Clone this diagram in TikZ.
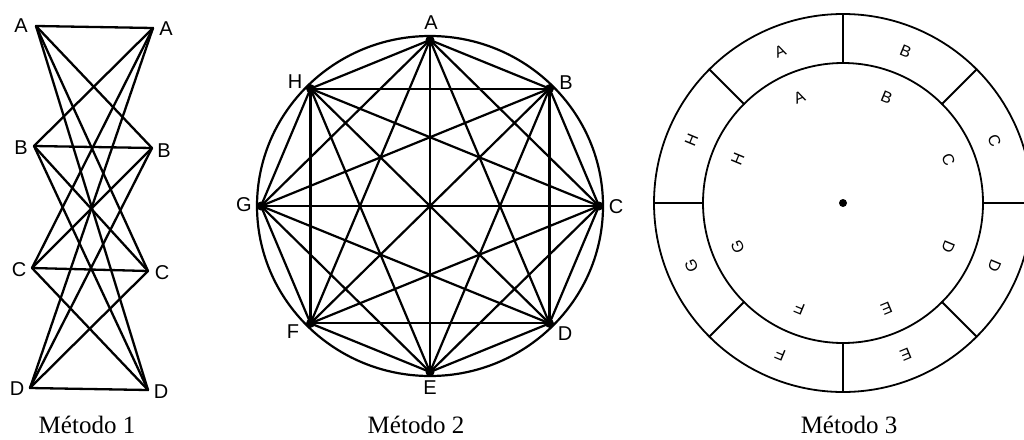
\documentclass[tikz,border=0pt]{standalone}
\usepackage{fontspec}
\setmainfont{Liberation Serif}
\newfontfamily\lblfont{Liberation Sans}
\begin{document}
\begin{tikzpicture}[x=1pt,y=-1pt,line cap=round,line join=round,
  edgeone/.style={line width=2.3pt},
  edgetwo/.style={line width=2.2pt},
  ringline/.style={line width=1.8pt},
  vlabel/.style={font=\lblfont\fontsize{20}{20}\selectfont,inner sep=0pt},
  wlabel/.style={font=\lblfont\fontsize{16}{16}\selectfont,inner sep=0pt},
  vdot/.style={circle,fill=black,inner sep=0pt,minimum size=9pt},
  caption/.style={font=\fontsize{25}{25}\selectfont,inner sep=0pt,anchor=base}]
\useasboundingbox (0,0) rectangle (1024,439);
\clip (0,0) rectangle (1024,439);

% ---------- Metodo 1 ----------
\coordinate (LA) at (36,26);
\coordinate (LB) at (34,146);
\coordinate (LC) at (32,268);
\coordinate (LD) at (30,388);
\coordinate (RA) at (153,28);
\coordinate (RB) at (152,148);
\coordinate (RC) at (148,271);
\coordinate (RD) at (148,390);
\foreach \l in {LA,LB,LC,LD}
  \foreach \r in {RA,RB,RC,RD}
    \draw[edgeone] (\l) -- (\r);
\node[vlabel] (tLA) at (21,26) {A};
\node[vlabel] (tLB) at (21,148) {B};
\node[vlabel] (tLC) at (19,270) {C};
\node[vlabel] (tLD) at (17,389) {D};
\node[vlabel] (tRA) at (166,29) {A};
\node[vlabel] (tRB) at (164,151) {B};
\node[vlabel] (tRC) at (162,273) {C};
\node[vlabel] (tRD) at (161,392) {D};
\node[caption] (cap1) at (87,433) {Método 1};

% ---------- Metodo 2 ----------
\draw[edgetwo] (430,206) ellipse[x radius=173,y radius=170];
\foreach \L [count=\i] in {A,B,C,D,E,F,G,H}{
  \pgfmathsetmacro\ang{90-45*(\i-1)}
  \node[vdot] (m\i) at ({430+169*cos(\ang)},{206-166*sin(\ang)}) {};
}
\foreach \i in {1,...,7}{
  \pgfmathtruncatemacro\s{\i+1}
  \foreach \j in {\s,...,8}
    \draw[edgetwo] (m\i.center) -- (m\j.center);
}
\node[vlabel] (tA) at (431,23) {A};
\node[vlabel] (tB) at (566,83) {B};
\node[vlabel] (tC) at (616,207) {C};
\node[vlabel] (tD) at (565,334) {D};
\node[vlabel] (tE) at (430,388) {E};
\node[vlabel] (tF) at (293,332) {F};
\node[vlabel] (tG) at (244,205) {G};
\node[vlabel] (tH) at (295,82) {H};
\node[caption] (cap2) at (416,433) {Método 2};

% ---------- Metodo 3 ----------
\begin{scope}[shift={(843,203)},yscale=-1]
  \draw[ringline] (0,0) circle[radius=140];
  \draw[ringline] (0,0) circle[radius=189];
  \foreach \a in {0,45,...,315}
    \draw[ringline] (\a:140) -- (\a:189);
  \foreach \L [count=\i] in {A,B,C,D,E,F,G,H}{
    \pgfmathsetmacro\ang{112.5-45*(\i-1)}
    \node[wlabel,rotate=\ang-90] (o\L) at (\ang:164) {\L};
    \node[wlabel,rotate=\ang-90] (n\L) at (\ang:114) {\L};
  }
  \node[circle,fill=black,inner sep=0pt,minimum size=8pt] (ctr) at (0,0) {};
\end{scope}
\node[caption] (cap3) at (849,433) {Método 3};
\end{tikzpicture}
\end{document}
